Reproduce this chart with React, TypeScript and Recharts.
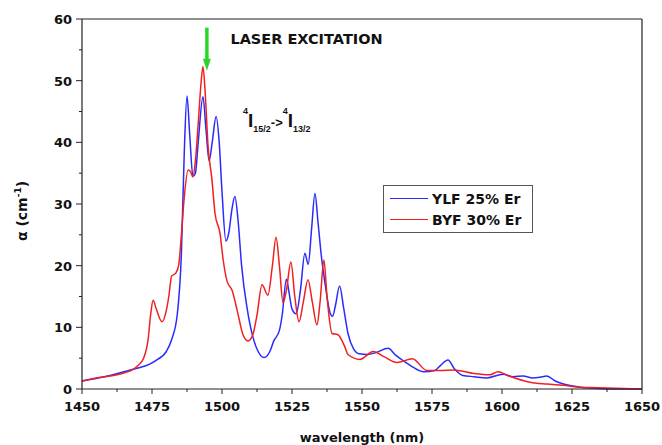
import React from "react";
import { LineChart, Line, XAxis, YAxis, ReferenceLine, ReferenceDot, Legend } from "recharts";

// YLF 25% Er absorption
const ylfNm = [
  1450, 1455, 1460, 1465, 1470, 1474, 1477, 1480, 1482, 1484, 1485.5, 1486.5, 1487.5, 1488.5,
  1489.6, 1490.5, 1491.5, 1493.2, 1494.3, 1495.4, 1496.5, 1497.9, 1499, 1500, 1501.4, 1502.5,
  1503.5, 1504.6, 1505.8, 1507, 1509, 1511, 1513, 1515, 1517, 1518.5, 1520.5, 1521.5, 1523,
  1524, 1525, 1526.5, 1528, 1529.6, 1530.8, 1532, 1533.2, 1534.3, 1535.5, 1537, 1538.5, 1539.5,
  1540.5, 1542, 1543.5, 1545, 1547, 1549, 1552, 1555, 1559.3, 1562, 1565, 1568, 1572, 1576,
  1578, 1580.7, 1583, 1586, 1590, 1594.6, 1600.4, 1604, 1607.5, 1611, 1613.5, 1616, 1619, 1622,
  1628, 1634, 1640, 1650,
];
const ylfAlpha = [
  1.3, 1.7, 2.2, 2.8, 3.4, 4.0, 4.8, 6.0, 8.0, 12, 22, 38, 47.5, 41,
  34.5, 35, 40, 47.4, 42, 37, 40, 44.2, 40, 32, 24, 25.5,
  29, 31.2, 27, 20, 13, 8.5, 6, 5.1, 6, 7.8, 9.5, 12, 17.8,
  15.5, 13, 12.2, 16, 22, 20.2, 26, 31.7, 27, 21.5, 16.5, 12.5, 11.8,
  13.5, 16.7, 13, 9, 6.5, 5.7, 5.6, 5.9, 6.6, 5.5, 4.5, 3.6, 2.8, 3.0,
  3.8, 4.7, 3.3, 2.2, 2.0, 1.8, 2.4, 2.0, 2.1, 1.8, 1.9, 2.1, 1.3, 0.8,
  0.3, 0.1, 0, 0,
];

// BYF 30% Er absorption
const byfNm = [
  1450, 1455, 1460, 1465, 1468, 1470, 1472, 1473.6, 1474.5, 1475.4, 1476.5, 1478.6, 1480, 1481,
  1482, 1483.5, 1484.5, 1485.5, 1486.5, 1487.9, 1488.8, 1489.6, 1490.5, 1491.5, 1492.5, 1493.2,
  1494, 1495, 1496.4, 1497.5, 1499.3, 1500.4, 1501.8, 1503.6, 1505.4, 1507.5, 1509.3, 1511,
  1512.5, 1514.3, 1516.4, 1518, 1519.3, 1520.5, 1521.8, 1523, 1524.6, 1526, 1527.5, 1529,
  1530.7, 1532.3, 1533.9, 1535, 1536.4, 1537.5, 1539.3, 1541.4, 1543.9, 1545, 1549.3, 1554,
  1558, 1562.5, 1568, 1573.2, 1578, 1582.5, 1590, 1595.7, 1598.6, 1602, 1610, 1616, 1621.8,
  1628, 1634, 1650,
];
const byfAlpha = [
  1.3, 1.8, 2.1, 2.6, 3.1, 3.8, 5.0, 8, 12, 14.4, 13, 10.9, 12.5, 15,
  18.3, 18.8, 20, 25, 31, 35.5, 35.2, 34.4, 37, 43, 49.5, 52.3,
  48, 39.5, 34, 28.5, 25.2, 21, 17.5, 16, 12.8, 8.8, 7.8, 8.8,
  12, 16.9, 15.2, 20, 24.6, 20, 14, 16, 20.6, 15, 10.9, 14,
  17.7, 14, 10.4, 14, 20.9, 15, 9, 8.8, 6.8, 5.6, 4.8, 6.1,
  5.2, 4.3, 4.9, 3.0, 3.0, 3.1, 2.5, 2.3, 2.8, 2.2, 1.1, 0.8, 0.6,
  0.3, 0.2, 0,
];

const seriesNames = ["YLF 25% Er", "BYF 30% Er"];

const xTicks = [1450, 1462.5, 1475, 1487.5, 1500, 1512.5, 1525, 1537.5, 1550, 1562.5, 1575, 1587.5, 1600, 1612.5, 1625, 1637.5, 1650];
const xLabels = [1450, 1475, 1500, 1525, 1550, 1575, 1600, 1625, 1650];
const yTicks = [0, 5, 10, 15, 20, 25, 30, 35, 40, 45, 50, 55, 60];
const yLabels = [0, 10, 20, 30, 40, 50, 60];

const laserNm = 1494.6;
const laserFrom = 58.6;
const laserTo = 51.6;

const ylfData = ylfNm.map((wl, i) => ({ wl, a: ylfAlpha[i] }));
const byfData = byfNm.map((wl, i) => ({ wl, a: byfAlpha[i] }));

const FONT = "'DejaVu Sans', sans-serif";
const AXIS = "#222";

const BottomTick = ({ x, y, payload }: any) => {
  const major = xLabels.includes(payload.value);
  return (
    <g>
      <line x1={x} x2={x} y1={y} y2={y + (major ? 5 : 3)} stroke={AXIS} />
      {major && (
        <text x={x} y={y + 22} textAnchor="middle" fontSize={13} fontWeight="bold" fontFamily={FONT} fill="#111">
          {payload.value}
        </text>
      )}
    </g>
  );
};

const TopTick = ({ x, y, payload }: any) => {
  const major = xLabels.includes(payload.value);
  return <line x1={x} x2={x} y1={y} y2={y + (major ? 5 : 3)} stroke={AXIS} />;
};

const LeftTick = ({ x, y, payload }: any) => {
  const major = yLabels.includes(payload.value);
  return (
    <g>
      <line x1={x - (major ? 6 : 3)} x2={x} y1={y} y2={y} stroke={AXIS} />
      {major && (
        <text x={x - 10} y={y + 5} textAnchor="end" fontSize={13} fontWeight="bold" fontFamily={FONT} fill="#111">
          {payload.value}
        </text>
      )}
    </g>
  );
};

const RightTick = ({ x, y, payload }: any) => {
  const major = yLabels.includes(payload.value);
  return <line x1={x - (major ? 5 : 3)} x2={x} y1={y} y2={y} stroke={AXIS} />;
};

const YTitle = ({ viewBox }: any) => {
  const cx = viewBox.x + 27;
  const cy = viewBox.y + viewBox.height / 2 + 7;
  return (
    <text
      transform={`rotate(-90 ${cx} ${cy})`}
      x={cx}
      y={cy}
      textAnchor="middle"
      fontSize={14}
      fontWeight="bold"
      fontFamily={FONT}
      fill="#111"
    >
      α (cm<tspan dy={-6} fontSize={9}>-1</tspan>
      <tspan dy={6}>)</tspan>
    </text>
  );
};

const XTitle = ({ viewBox }: any) => (
  <text
    x={viewBox.x + viewBox.width / 2}
    y={viewBox.y + viewBox.height - 3}
    textAnchor="middle"
    fontSize={13}
    fontWeight="bold"
    fontFamily={FONT}
    fill="#111"
  >
    wavelength (nm)
  </text>
);

const LaserArrow = ({ x1, y1, x2, y2 }: any) => (
  <g>
    <line x1={x1} y1={y1} x2={x2} y2={y2 - 10} stroke="#2bd62b" strokeWidth={3.5} />
    <polygon points={`${x2 - 4},${y2 - 12} ${x2 + 4},${y2 - 12} ${x2},${y2}`} fill="#2bd62b" />
  </g>
);

const LaserText = ({ cx, cy }: any) => (
  <text x={cx} y={cy} fontSize={14.5} fontWeight="bold" fontFamily={FONT} fill="#111">
    LASER EXCITATION
  </text>
);

const Transition = ({ cx, cy }: any) => (
  <text x={cx} y={cy} fontWeight="bold" fontFamily="'Liberation Sans', Arial, sans-serif" fill="#111">
    <tspan fontSize={9} dy={-13}>4</tspan>
    <tspan fontSize={19} dy={13}>I</tspan>
    <tspan fontSize={9} dy={5}>15/2</tspan>
    <tspan fontSize={13} dy={-5}>-&gt;</tspan>
    <tspan fontSize={9} dy={-13}>4</tspan>
    <tspan fontSize={19} dy={13}>I</tspan>
    <tspan fontSize={9} dy={5}>13/2</tspan>
  </text>
);

const LegendBox = ({ payload }: any) => {
  const items = [...(payload || [])].sort(
    (a: any, b: any) => seriesNames.indexOf(a.value) - seriesNames.indexOf(b.value)
  );
  return (
    <div
      style={{
        border: "1px solid #555",
        background: "#fff",
        width: 150,
        height: 48,
        boxSizing: "border-box",
        padding: "2px 6px",
      }}
    >
      {items.map((p: any) => (
        <div key={p.value} style={{ display: "flex", alignItems: "center", height: 21 }}>
          <span style={{ display: "inline-block", width: 38, borderTop: `1.5px solid ${p.color}` }} />
          <span style={{ marginLeft: 4, fontFamily: FONT, fontWeight: "bold", fontSize: 14, color: "#111" }}>
            {p.value}
          </span>
        </div>
      ))}
    </div>
  );
};

export default function App() {
  return (
    <div style={{ position: "absolute", left: 0, top: 0, background: "#fff" }}>
      <LineChart width={662} height={445} margin={{ top: 0, right: 0, bottom: 0, left: 0 }}>
        <XAxis
          dataKey="wl"
          type="number"
          domain={[1450, 1650]}
          ticks={xTicks}
          interval={0}
          height={56}
          tickSize={0}
          tickMargin={0}
          tickLine={false}
          axisLine={{ stroke: AXIS, strokeWidth: 1.2 }}
          tick={(p: any) => <BottomTick {...p} />}
          label={(p: any) => <XTitle {...p} />}
          allowDuplicatedCategory={false}
        />
        <XAxis
          xAxisId="top"
          orientation="top"
          type="number"
          domain={[1450, 1650]}
          ticks={xTicks}
          interval={0}
          height={19}
          tickSize={0}
          tickMargin={0}
          tickLine={false}
          axisLine={{ stroke: AXIS, strokeWidth: 1.2 }}
          tick={(p: any) => <TopTick {...p} />}
        />
        <YAxis
          type="number"
          domain={[0, 60]}
          ticks={yTicks}
          interval={0}
          width={82}
          tickSize={0}
          tickMargin={0}
          tickLine={false}
          axisLine={{ stroke: AXIS, strokeWidth: 1.2 }}
          tick={(p: any) => <LeftTick {...p} />}
          label={(p: any) => <YTitle {...p} />}
        />
        <YAxis
          yAxisId="right"
          orientation="right"
          type="number"
          domain={[0, 60]}
          ticks={yTicks}
          interval={0}
          width={20}
          tickSize={0}
          tickMargin={0}
          tickLine={false}
          axisLine={{ stroke: AXIS, strokeWidth: 1.2 }}
          tick={(p: any) => <RightTick {...p} />}
        />
        <Legend
          layout="vertical"
          align="center"
          verticalAlign="middle"
          wrapperStyle={{ left: 383, top: 185, width: 150, height: 48 }}
          content={(p: any) => <LegendBox {...p} />}
        />
        <Line
          data={ylfData}
          dataKey="a"
          name="YLF 25% Er"
          type="monotone"
          stroke="#2a2aff"
          strokeWidth={1.5}
          dot={false}
          isAnimationActive={false}
        />
        <Line
          data={byfData}
          dataKey="a"
          name="BYF 30% Er"
          type="monotone"
          stroke="#f02020"
          strokeWidth={1.5}
          dot={false}
          isAnimationActive={false}
        />
        <ReferenceLine
          segment={[
            { x: laserNm, y: laserFrom },
            { x: laserNm, y: laserTo },
          ]}
          shape={(p: any) => <LaserArrow {...p} />}
        />
        <ReferenceDot x={1503} y={56} r={1} shape={(p: any) => <LaserText {...p} />} />
        <ReferenceDot x={1507.5} y={42.5} r={1} shape={(p: any) => <Transition {...p} />} />
      </LineChart>
    </div>
  );
}
